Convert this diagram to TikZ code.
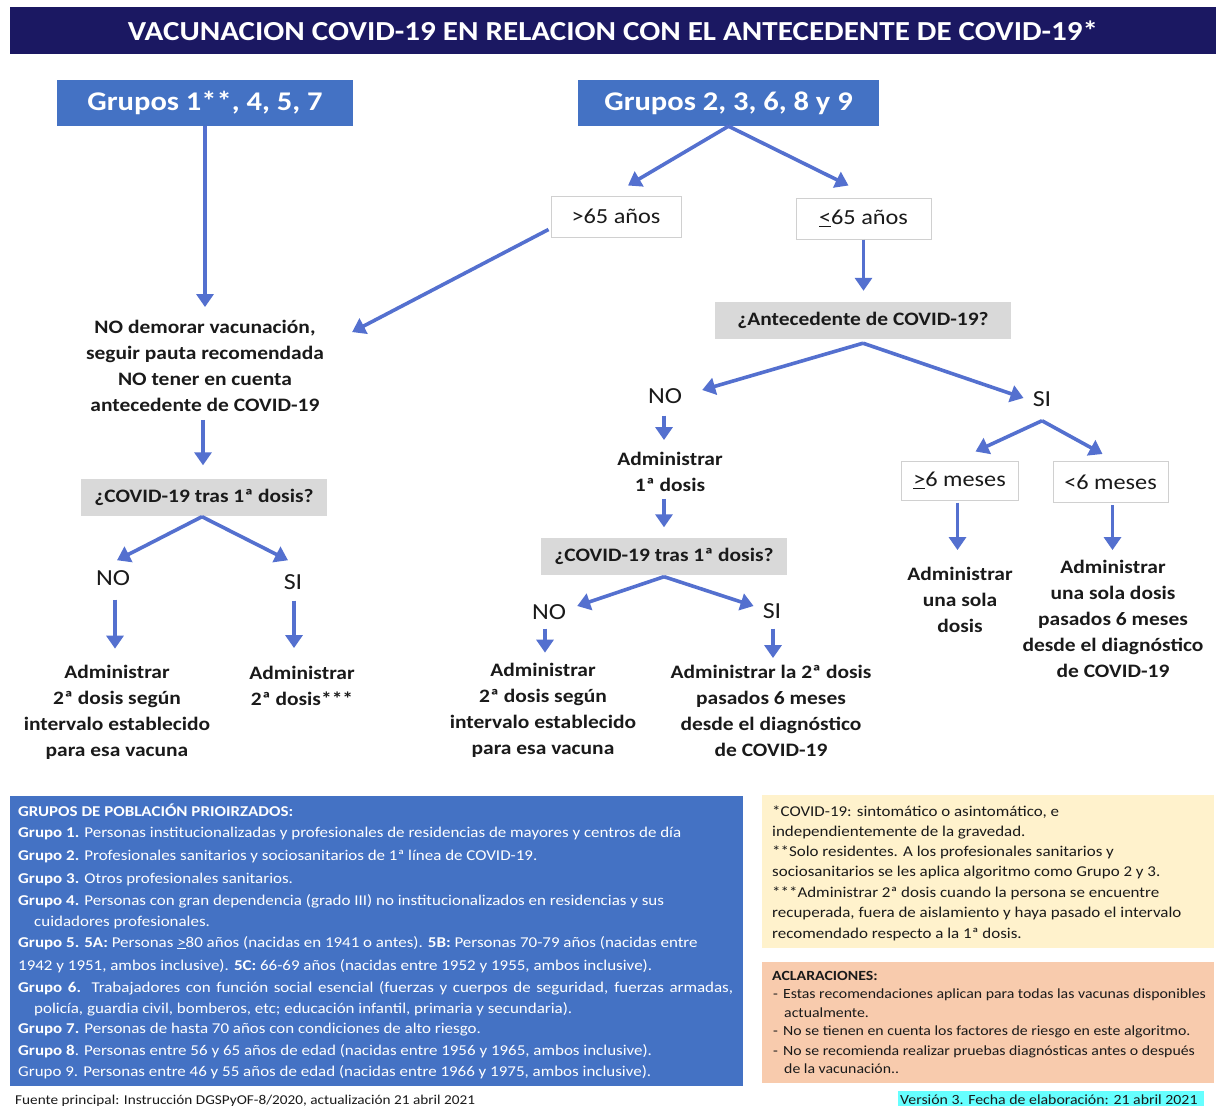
\documentclass[tikz,border=0pt]{standalone}
\usepackage{fontspec}
\setmainfont{Carlito}[FakeStretch=1.13]
\usetikzlibrary{arrows.meta,calc}
\definecolor{navy}{HTML}{1B1862}
\definecolor{grpblue}{HTML}{4472C4}
\definecolor{arrowc}{HTML}{5470CF}
\definecolor{qgray}{HTML}{D9D9D9}
\definecolor{boxgray}{HTML}{D0D0D0}
\definecolor{yel}{HTML}{FFF2CC}
\definecolor{orng}{HTML}{F8CBAD}
\definecolor{cyanlbl}{HTML}{66FFFF}
\definecolor{txt}{HTML}{1A1A1A}
\begin{document}
\begin{tikzpicture}[x=1pt,y=-1pt,
  titlebar/.style={fill=navy, text=white, font=\fontsize{27.5}{32}\selectfont\bfseries, minimum width=1206pt, minimum height=47pt, inner sep=0pt},
  grp/.style={fill=grpblue, text=white, font=\fontsize{27}{32}\selectfont\bfseries, minimum height=46pt, inner sep=0pt},
  age/.style={draw=boxgray, line width=1pt, fill=white, text=txt, font=\fontsize{21.5}{25}\selectfont, minimum height=41pt, inner sep=0pt},
  qb/.style={fill=qgray, text=txt, font=\fontsize{19}{23}\selectfont\bfseries, minimum height=37pt, inner sep=0pt},
  yn/.style={font=\fontsize{23}{27}\selectfont, text=txt, inner sep=0pt},
  act/.style={font=\fontsize{19}{26}\selectfont\bfseries, text=txt, align=center, inner sep=0pt},
  arr/.style={draw=arrowc, line width=3.6pt, -{Triangle[length=13pt,width=17pt]}},
  panel/.style={inner sep=0pt},
  bt/.style={anchor=base west, inner sep=0pt, text=white, font=\fontsize{15}{18}\selectfont},
  nt/.style={anchor=base west, inner sep=0pt, text=txt, font=\fontsize{15}{18}\selectfont},
  ot/.style={anchor=base west, inner sep=0pt, text=txt, font=\fontsize{14}{18}\selectfont}
]
\useasboundingbox[fill=white] (0,0) rectangle (1216,1106);

% title
\node[titlebar] (title) at (613,30.5) {VACUNACION COVID-19 EN RELACION CON EL ANTECEDENTE DE COVID-19*};

% group boxes
\node[grp, minimum width=296pt] (g1) at (205,103) {Grupos 1**, 4, 5, 7};
\node[grp, minimum width=301pt] (g2) at (728.5,103) {Grupos 2, 3, 6, 8 y 9};

% right branch
\node[age, minimum width=130pt] (gt65) at (616,216.5) {>65 años};
\node[age, minimum width=135pt] (le65) at (863.5,218.5) {\underline{<}65 años};
\node[qb, minimum width=296pt] (ante) at (863,320.5) {¿Antecedente de COVID-19?};
\node[yn] (no1) at (665,396) {NO};
\node[yn] (si1) at (1042,399) {SI};
\node[act] (adm1) at (670,472) {Administrar\\1ª dosis};
\node[qb, minimum width=246pt] (q2) at (664,556) {¿COVID-19 tras 1ª dosis?};
\node[yn] (no2) at (549,612) {NO};
\node[yn] (si2) at (772,611) {SI};
\node[act] (adm2c) at (543,710) {Administrar\\2ª dosis según\\intervalo establecido\\para esa vacuna};
\node[act] (adm2d) at (771,711) {Administrar la 2ª dosis\\pasados 6 meses\\desde el diagnóstico\\de COVID-19};
\node[age, minimum width=117pt, minimum height=39pt] (ge6) at (959.5,480.5) {\underline{>}6 meses};
\node[age, minimum width=115pt] (lt6) at (1110.5,482) {<6 meses};
\node[act] (una) at (960,600) {Administrar\\una sola\\dosis};
\node[act] (unab) at (1113,619) {Administrar\\una sola dosis\\pasados 6 meses\\desde el diagnóstico\\de COVID-19};

% left branch
\node[act] (nodem) at (205,366) {NO demorar vacunación,\\seguir pauta recomendada\\NO tener en cuenta\\antecedente de COVID-19};
\node[qb, minimum width=246pt] (q1) at (204,497) {¿COVID-19 tras 1ª dosis?};
\node[yn] (no3) at (113,578) {NO};
\node[yn] (si3) at (293,582) {SI};
\node[act] (adm2a) at (117,712) {Administrar\\2ª dosis según\\intervalo establecido\\para esa vacuna};
\node[act] (adm2b) at (302,686) {Administrar\\2ª dosis***};

% arrows
\draw[arr] (g1.south) -- ($(g1.south |- nodem.north)+(0,-13)$);
\draw[arr] (g2.south) -- ($(gt65.north)+(12,-10)$);
\draw[arr] (g2.south) -- ($(le65.north)+(-15,-12)$);
\draw[arr] ($(gt65.south west)+(-2,-8)$) -- ($(nodem.north east)+(28,12)$);
\draw[arr] (le65.south) -- ($(le65.south |- ante.north)+(0,-11)$);
\draw[arr] ($(ante.south)+(0,4)$) -- ($(no1.east)+(20,-6)$);
\draw[arr] ($(ante.south)+(0,4)$) -- ($(si1.west)+(-9,-1)$);
\draw[arr] ($(no1.south)+(-1,12)$) -- ($(no1.south |- adm1.north)+(-1,-12)$);
\draw[arr] ($(no1.south |- adm1.south)+(-1,7)$) -- ($(no1.south |- q2.north)+(-1,-10)$);
\draw[arr] ($(q2.south)+(0,2)$) -- ($(no2.east)+(11,-6)$);
\draw[arr] ($(q2.south)+(0,2)$) -- ($(si2.west)+(-9,-5)$);
\draw[arr] ($(no2.south)+(-4,9)$) -- ($(no2.south |- adm2c.north)+(-4,-10)$);
\draw[arr] ($(si2.south)+(1,10)$) -- ($(si2.south |- adm2d.north)+(1,-7)$);
\draw[arr] ($(si1.south)+(0,14)$) -- ($(ge6.north)+(16,-9)$);
\draw[arr] ($(si1.south)+(0,14)$) -- ($(lt6.north)+(-8,-7)$);
\draw[arr] ($(ge6.south)+(-2,2)$) -- ($(ge6.south |- una.north)+(-2,-17)$);
\draw[arr] ($(lt6.south)+(2,2)$) -- ($(lt6.south |- unab.north)+(2,-10)$);
\draw[arr] ($(nodem.south)+(-2,8)$) -- ($(nodem.south |- q1.north)+(-2,-13)$);
\draw[arr] ($(q1.south)+(-2,1)$) -- ($(no3.north)+(4,-10)$);
\draw[arr] ($(q1.south)+(-2,1)$) -- ($(si3.north)+(-5,-14)$);
\draw[arr] ($(no3.south)+(2,14)$) -- ($(no3.south |- adm2a.north)+(2,-16)$);
\draw[arr] ($(si3.south)+(1,11)$) -- ($(si3.south |- adm2b.north)+(1,-18)$);

% bottom panels
\node[panel, fill=grpblue, minimum width=733pt, minimum height=290pt] (pblue) at (376.5,941) {};
\node[panel, fill=yel, minimum width=452pt, minimum height=153pt] (pyel) at (988,871.5) {};
\node[panel, fill=orng, minimum width=452pt, minimum height=121pt] (porg) at (988,1022.5) {};
\node[panel, fill=cyanlbl, minimum width=306pt, minimum height=16pt] (ver) at (1051,1099) {};
\node[nt, font=\fontsize{14}{17}\selectfont] (vertxt) at (900,1104) {Versión 3. Fecha de elaboración: 21 abril 2021};

\node[bt] (b0) at (18,816) {\textbf{GRUPOS DE POBLACIÓN PRIOIRZADOS:}};
\node[bt] (b1) at (18,837) {\textbf{Grupo 1.} Personas institucionalizadas y profesionales de residencias de mayores y centros de día};
\node[bt] (b2) at (18,860) {\textbf{Grupo 2.} Profesionales sanitarios y sociosanitarios de 1ª línea de COVID-19.};
\node[bt] (b3) at (18,883) {\textbf{Grupo 3.} Otros profesionales sanitarios.};
\node[bt] (b4) at (18,905) {\textbf{Grupo 4.} Personas con gran dependencia (grado III) no institucionalizados en residencias y sus};
\node[bt] (b4b) at (34,926) {cuidadores profesionales.};
\node[bt] (b5) at (18,947) {\textbf{Grupo 5. 5A:} Personas \underline{>}80 años (nacidas en 1941 o antes). \textbf{5B:} Personas 70-79 años (nacidas entre};
\node[bt] (b5b) at (18,970) {1942 y 1951, ambos inclusive). \textbf{5C:} 66-69 años (nacidas entre 1952 y 1955, ambos inclusive).};
\node[bt] (b6) at (18,992) {\makebox[715pt][s]{\textbf{Grupo 6.} Trabajadores con función social esencial (fuerzas y cuerpos de seguridad, fuerzas armadas,}};
\node[bt] (b6b) at (34,1013) {policía, guardia civil, bomberos, etc; educación infantil, primaria y secundaria).};
\node[bt] (b7) at (18,1033) {\textbf{Grupo 7.} Personas de hasta 70 años con condiciones de alto riesgo.};
\node[bt] (b8) at (18,1055) {\textbf{Grupo 8}. Personas entre 56 y 65 años de edad (nacidas entre 1956 y 1965, ambos inclusive).};
\node[bt] (b9) at (18,1076) {Grupo 9. Personas entre 46 y 55 años de edad (nacidas entre 1966 y 1975, ambos inclusive).};

\node[nt, font=\fontsize{13.5}{16}\selectfont] (src) at (15,1104) {Fuente principal: Instrucción DGSPyOF-8/2020, actualización 21 abril 2021};

\node[nt] (y1) at (772,816) {*COVID-19: sintomático o asintomático, e};
\node[nt] (y2) at (772,836) {independientemente de la gravedad.};
\node[nt] (y3) at (772,856) {**Solo residentes. A los profesionales sanitarios y};
\node[nt] (y4) at (772,876) {sociosanitarios se les aplica algoritmo como Grupo 2 y 3.};
\node[nt] (y5) at (772,897) {***Administrar 2ª dosis cuando la persona se encuentre};
\node[nt] (y6) at (772,917) {recuperada, fuera de aislamiento y haya pasado el intervalo};
\node[nt] (y7) at (772,938) {recomendado respecto a la 1ª dosis.};

\node[ot] (o0) at (772,980) {\textbf{ACLARACIONES:}};
\node[ot] (o1) at (773,998) {-\hspace{5pt}Estas recomendaciones aplican para todas las vacunas disponibles};
\node[ot] (o1b) at (784,1017) {actualmente.};
\node[ot] (o2) at (773,1035) {-\hspace{5pt}No se tienen en cuenta los factores de riesgo en este algoritmo.};
\node[ot] (o3) at (773,1055) {-\hspace{5pt}No se recomienda realizar pruebas diagnósticas antes o después};
\node[ot] (o3b) at (784,1073) {de la vacunación..};
\end{tikzpicture}
\end{document}
